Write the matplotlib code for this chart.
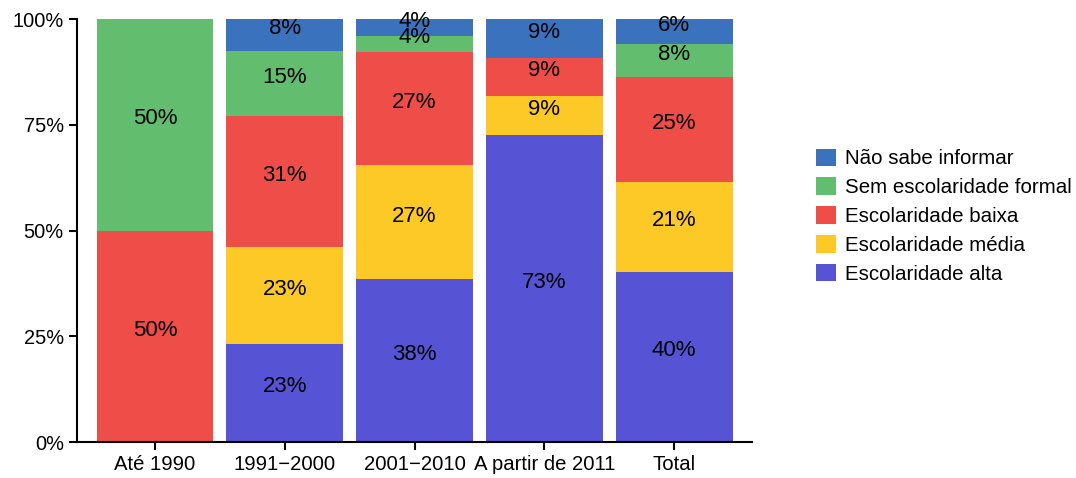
import matplotlib.pyplot as plt
import numpy as np

plt.rcParams['font.family'] = ['Liberation Sans', 'DejaVu Sans']

periodos = ['Até 1990', '1991\u22122000', '2001\u22122010', 'A partir de 2011', 'Total']
niveis = ['Escolaridade alta', 'Escolaridade média', 'Escolaridade baixa',
          'Sem escolaridade formal', 'Não sabe informar']
cores = ['#5753D5', '#FDC927', '#EF4D47', '#62BD6E', '#3A72BE']

# porcentagens (de baixo para cima)
alta = [0, 23.1, 38.5, 72.7, 40.3]
media = [0, 23.1, 26.9, 9.1, 21.1]
baixa = [50, 30.8, 26.9, 9.1, 25.0]
sem_escol = [50, 15.4, 3.8, 0, 7.7]
nao_sabe = [0, 7.7, 3.9, 9.1, 5.9]

series = [alta, media, baixa, sem_escol, nao_sabe]

fig = plt.figure(figsize=(10.76, 4.78), dpi=100)
ax = fig.add_axes([0.0716, 0.0753, 0.6274, 0.8847])

x = np.arange(len(periodos))
base = np.zeros(len(periodos))
for vals, cor, nome in zip(series, cores, niveis):
    vals = np.array(vals)
    ax.bar(x, vals, 0.9, bottom=base, color=cor, label=nome)
    for xi, v, b0 in zip(x, vals, base):
        if v > 0:
            ax.annotate(f'{v:.0f}%', (xi, b0 + v / 2), xytext=(0, 4.5),
                        textcoords='offset points', ha='center', va='center',
                        fontsize=16)
    base += vals

ax.set_xlim(-0.6, 4.6)
ax.set_ylim(0, 100)
ax.set_xticks(x)
ax.set_xticklabels(periodos, fontsize=14.6)
ax.set_yticks([0, 25, 50, 75, 100])
ax.set_yticklabels(['0%', '25%', '50%', '75%', '100%'], fontsize=14.4)
ax.tick_params(length=6, width=1.5, color='black')
for s in ['top', 'right']:
    ax.spines[s].set_visible(False)
for s in ['left', 'bottom']:
    ax.spines[s].set_linewidth(1.5)

h, l = ax.get_legend_handles_labels()
fig.legend(h[::-1], l[::-1], loc='center left', bbox_to_anchor=(0.745, 0.548),
           frameon=False, fontsize=14.8, handlelength=0.95, handleheight=0.95,
           labelspacing=0.43, handletextpad=0.45, borderpad=0.2)

plt.savefig('out.png', dpi=100)
